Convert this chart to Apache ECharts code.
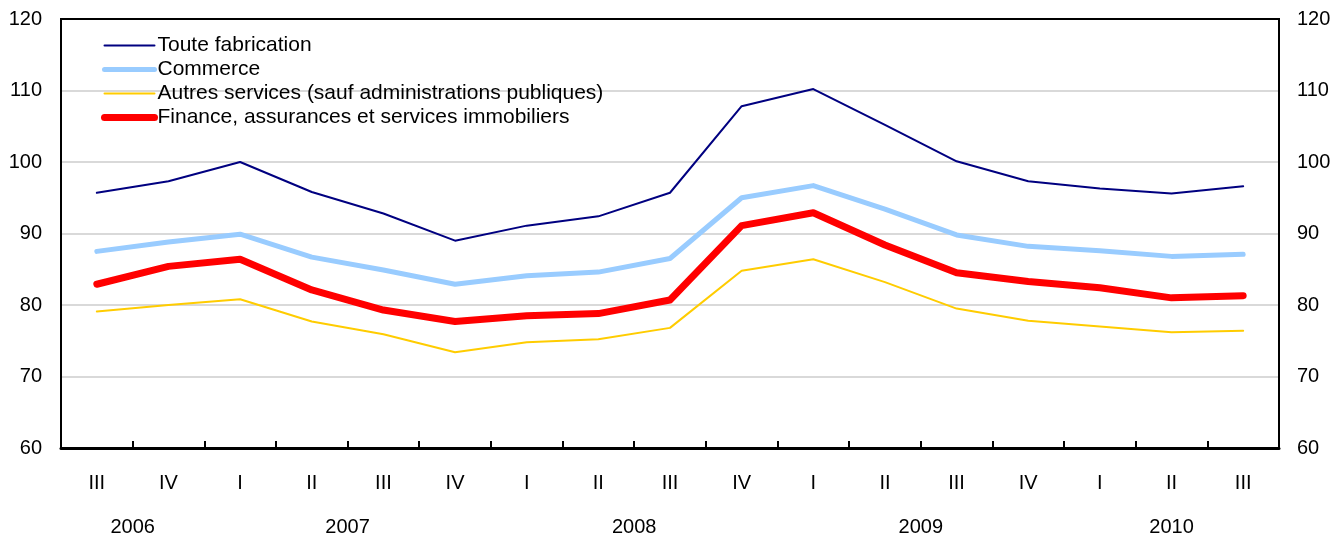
<!DOCTYPE html>
<html>
<head>
<meta charset="utf-8">
<script src="https://cdn.jsdelivr.net/npm/echarts@6/dist/echarts.min.js"></script>
<style>html,body{margin:0;padding:0;background:#fff}#c{width:1335px;height:537px}</style>
</head>
<body>
<div id="c"></div>
<script>
const quarters = ['III','IV','I','II','III','IV','I','II','III','IV','I','II','III','IV','I','II','III'];
const yearLabels = {1:'2006', 4:'2007', 8:'2008', 12:'2009', 15.5:'2010'};
const fabrication = [95.7,97.3,100.0,95.8,92.8,89.0,91.1,92.4,95.7,107.8,110.2,105.2,100.1,97.3,96.3,95.6,96.6];
const commerce = [87.5,88.8,89.9,86.7,84.9,82.9,84.1,84.6,86.5,95.0,96.7,93.4,89.8,88.2,87.6,86.8,87.1];
const autres = [79.1,80.0,80.8,77.7,75.9,73.4,74.8,75.2,76.8,84.8,86.4,83.2,79.5,77.8,77.0,76.2,76.4];
const finance = [82.9,85.4,86.4,82.1,79.3,77.7,78.5,78.8,80.7,91.1,92.9,88.4,84.5,83.3,82.4,81.0,81.3];
const names = ['Toute fabrication','Commerce','Autres services (sauf administrations publiques)','Finance, assurances et services immobiliers'];

const font = 'Arial, "Liberation Sans", sans-serif';
const chart = echarts.init(document.getElementById('c'));
const mk = (name, data, color, width, z) => ({
  name, type:'line', data, symbol:'none', z,
  lineStyle:{color, width, cap:'round', join:'round'}, itemStyle:{color}
});
chart.setOption({
  animation:false,
  backgroundColor:'#fff',
  grid:{left:61,right:56,top:19,bottom:88,show:true,borderColor:'#000',borderWidth:2,backgroundColor:'transparent',z:3},
  legend:{
    orient:'vertical', left:101, top:35, padding:0, itemWidth:50, itemHeight:18, itemGap:3,
    lineStyle:{width:'inherit'}, itemStyle:{opacity:0},
    textStyle:{fontFamily:font,fontSize:21,lineHeight:21,color:'#000',padding:[0,0,0,-2]},
    data:names
  },
  xAxis:[{
    type:'category', data:quarters, boundaryGap:true,
    axisLine:{lineStyle:{color:'#000',width:3}},
    axisTick:{show:true,inside:true,length:7,lineStyle:{color:'#000',width:2}},
    axisLabel:{fontFamily:font,fontSize:20,color:'#000',margin:25,interval:0},
    splitLine:{show:false}, z:10
  },{
    type:'value', position:'bottom', min:0, max:17, interval:0.5,
    axisLine:{show:false}, axisTick:{show:false}, splitLine:{show:false},
    axisLabel:{fontFamily:font,fontSize:20,color:'#000',margin:69,
      formatter:v=>yearLabels[v]||''}
  }],
  yAxis:[{
    type:'value', min:60, max:120, interval:10, position:'left',
    axisLine:{show:false}, axisTick:{show:false},
    axisLabel:{fontFamily:font,fontSize:20,color:'#000',margin:19},
    splitLine:{show:true,showMinLine:false,showMaxLine:false,lineStyle:{color:'#d9d9d9',width:2}}
  },{
    type:'value', min:60, max:120, interval:10, position:'right',
    axisLine:{show:false}, axisTick:{show:false},
    axisLabel:{fontFamily:font,fontSize:20,color:'#000',margin:18},
    splitLine:{show:false}
  }],
  series:[
    mk(names[0], fabrication, '#000080', 2, 4),
    mk(names[1], commerce, '#99CCFF', 5, 3),
    mk(names[2], autres, '#FFCC00', 2, 2),
    mk(names[3], finance, '#FF0000', 7, 5)
  ]
});
</script>
</body>
</html>
